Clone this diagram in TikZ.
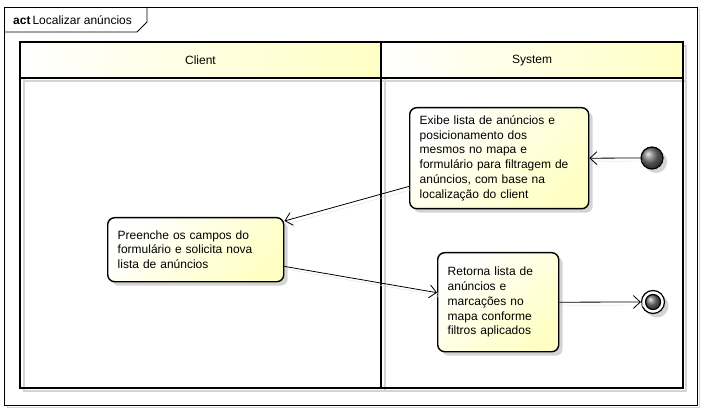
\documentclass[tikz,border=0pt]{standalone}
\usepackage{fontspec}
\setmainfont{Liberation Sans}
\usetikzlibrary{arrows.meta,shadows,calc}
\definecolor{umlyellow}{HTML}{FFFFC4}
\definecolor{shadowgray}{HTML}{D4D4D4}
\tikzset{
  actbox/.style={draw=black, line width=1.4pt, rounded corners=7pt, anchor=north west,
    align=left, font=\fontsize{12}{14.8}\selectfont, inner xsep=10pt, inner ysep=0pt,
    top color=white, bottom color=umlyellow, shading angle=45,
    drop shadow={shadow xshift=4pt, shadow yshift=-4pt, fill=shadowgray, opacity=1}},
  flow/.style={line width=0.8pt, -{Straight Barb[length=7pt,width=13pt,line width=0.8pt]},
    preaction={draw=black!12, transform canvas={shift={(3pt,-3pt)}}}},
  laneline/.style={line width=1.6pt, draw=black},
  laneshadow/.style={line width=1.6pt, draw=shadowgray},
  lanehead/.style={left color=white, right color=umlyellow},
  headtext/.style={font=\fontsize{12}{14}\selectfont},
  ballnode/.style={circle, draw=black, line width=1.2pt, ball color=black!55, inner sep=0pt},
}
\begin{document}
\begin{tikzpicture}[x=1pt,y=-1pt]
\useasboundingbox (0,0) rectangle (703,411);
\fill[white] (0,0) rectangle (703,411);
% frame
\draw[shadowgray, line width=0.8pt] (7,9) rectangle (699,407);
\draw[black, line width=0.8pt, fill=white] (4.5,7) rectangle (697,405);
\draw[black, line width=0.8pt] (4.5,32) -- (137,32) -- (147,22) -- (147,7);
\node[anchor=base west, inner sep=0pt, font=\fontsize{12}{14}\selectfont] (title) at (13,24.5) {\textbf{act}\,Localizar anúncios};
% swimlanes
\draw[laneshadow] (24,46) rectangle (686,391);
\draw[laneshadow] (385,46) -- (385,391);
\draw[laneshadow] (24,81) -- (686,81);
\fill[lanehead] (20,42) rectangle (381,78);
\fill[lanehead] (381,42) rectangle (683,78);
\draw[laneline] (20,42) rectangle (683,388);
\draw[laneline] (381,42) -- (381,388);
\draw[laneline] (20,78) -- (683,78);
\node[headtext] (client) at (200.5,60.5) {Client};
\node[headtext] (system) at (532,60.5) {System};
% actions
\node[actbox, text width=159pt, minimum height=101pt] (n1) at (409,107)
  {Exibe lista de anúncios e\\posicionamento dos\\mesmos no mapa e\\formulário para filtragem de\\anúncios, com base na\\localização do client};
\node[actbox, text width=156pt, minimum height=64pt] (n2) at (107,217)
  {Preenche os campos do\\formulário e solicita nova\\lista de anúncios};
\node[actbox, text width=101pt, minimum height=99pt] (n3) at (437,252)
  {Retorna lista de\\anúncios e\\marcações no\\mapa conforme\\filtros aplicados};
% initial / final
\node[ballnode, minimum size=22pt, drop shadow={shadow xshift=4pt, shadow yshift=-4pt, fill=shadowgray, opacity=1}] (init) at (652,158) {};
\node[circle, draw=black, line width=1.2pt, fill=white, minimum size=23pt, inner sep=0pt,
  drop shadow={shadow xshift=4pt, shadow yshift=-4pt, fill=shadowgray, opacity=1}] (fin) at (653,302) {};
\node[ballnode, minimum size=15pt, line width=1.2pt] (finin) at (fin) {};
% flows
\draw[flow] (init.west) -- (n1.east);
\draw[flow] ([yshift=23pt]n1.south west) -- ([yshift=-4pt]n2.north east);
\draw[flow] ([yshift=16pt]n2.south east) -- ([yshift=9.5pt]n3.west);
\draw[flow] (n3.east) -- (fin.west);
\end{tikzpicture}
\end{document}
